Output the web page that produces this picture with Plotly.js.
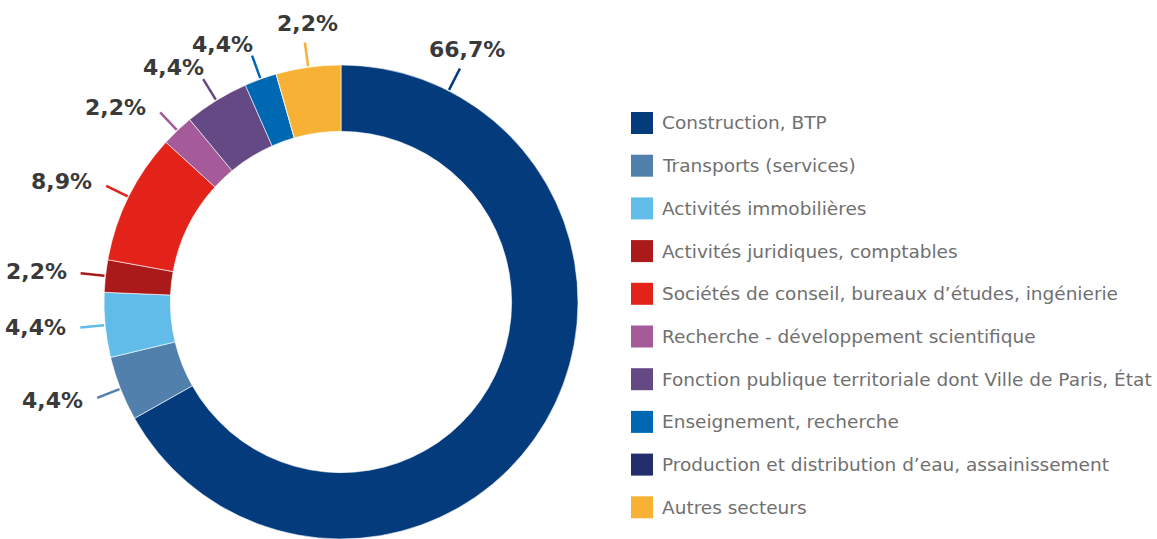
<!DOCTYPE html>
<html><head><meta charset="utf-8">
<script src="https://cdn.plot.ly/plotly-3.0.1.min.js"></script>
<style>html,body{margin:0;padding:0;background:#fff}#chart{width:1157px;height:539px}</style>
</head><body><div id="chart"></div>
<script>
// ---- data ----
const categories = [
  "Construction, BTP",
  "Transports (services)",
  "Activités immobilières",
  "Activités juridiques, comptables",
  "Sociétés de conseil, bureaux d’études, ingénierie",
  "Recherche - développement scientifique",
  "Fonction publique territoriale dont Ville de Paris, État",
  "Enseignement, recherche",
  "Production et distribution d’eau, assainissement",
  "Autres secteurs"
];
const values = [66.7, 4.4, 4.4, 2.2, 8.9, 2.2, 4.4, 2.2, 0, 4.4];
const printedLabels = ["66,7%", "4,4%", "4,4%", "2,2%", "8,9%", "2,2%", "4,4%", "4,4%", "", "2,2%"];
const colors = ["#033b7d", "#5280ad", "#62bce9", "#ab1a1a", "#e32219", "#a55a9a", "#654984", "#0068b3", "#232e6d", "#f7b134"];

// ---- layout geometry ----
const W = 1157, H = 539;
const CX = 341, CY = 302, R = 237;
const FIRST_LABEL_OFFSET = 27; // degrees into first slice where its label sits
const domainX = [(CX - R) / W, (CX + R) / W];
const domainY = [(H - (CY + R)) / H, (H - (CY - R)) / H];

const px2x = p => p / W;
const py2y = p => 1 - p / H;

const total = values.reduce((a, b) => a + b, 0);
const shapes = [];
const annotations = [];
let cum = 0;
values.forEach((v, i) => {
  const start = cum / total * 360;
  const end = (cum + v) / total * 360;
  cum += v;
  if (v <= 0 || !printedLabels[i]) return;
  const ang = i === 0 ? start + FIRST_LABEL_OFFSET : (start + end) / 2;
  const t = ang * Math.PI / 180;
  const sx = Math.sin(t), sy = -Math.cos(t);
  const r0 = R + 1, r1 = R + 25;
  const x0 = CX + r0 * sx, y0 = CY + r0 * sy;
  const x1 = CX + r1 * sx, y1 = CY + r1 * sy;
  shapes.push({type: "line", xref: "paper", yref: "paper",
    x0: px2x(x0), y0: py2y(y0), x1: px2x(x1), y1: py2y(y1),
    line: {color: colors[i], width: 2.5}});
  const xanchor = sx < -0.3 ? "right" : (sx > 0.5 ? "left" : "center");
  const yanchor = sy < -0.8 ? "bottom" : (sy > 0.8 ? "top" : "middle");
  let xs, ys;
  if (yanchor === "middle") { xs = 12 * Math.sign(sx); ys = Math.max(-5, Math.min(4, -sy * 9)) + 0.5; }
  else if (xanchor === "center") { xs = 6 * sx + 4; ys = -6 * sy - 1; }
  else { xs = 3; ys = -3; }
  annotations.push({xref: "paper", yref: "paper", x: px2x(x1), y: py2y(y1),
    text: printedLabels[i], showarrow: false, xanchor: xanchor, yanchor: yanchor,
    xshift: xs, yshift: ys,
    font: {family: "DejaVu Sans", size: 22, color: "#3a3a3a", weight: 700}});
});

// custom legend
const LEG_X = 631, LEG_SQ = 22, LEG_Y0 = 123, LEG_STEP = 42.7;
categories.forEach((c, i) => {
  const yc = LEG_Y0 + i * LEG_STEP;
  shapes.push({type: "rect", xref: "paper", yref: "paper",
    x0: px2x(LEG_X), x1: px2x(LEG_X + LEG_SQ),
    y0: py2y(yc + LEG_SQ / 2), y1: py2y(yc - LEG_SQ / 2),
    fillcolor: colors[i], line: {width: 0}});
  annotations.push({xref: "paper", yref: "paper", x: px2x(LEG_X + LEG_SQ + 7), y: py2y(yc),
    text: c, showarrow: false, xanchor: "left", yanchor: "middle",
    font: {family: "DejaVu Sans", size: 18.5, color: "#707070"}});
});

const trace = {
  type: "pie",
  labels: categories,
  values: values,
  marker: {colors: colors, line: {color: "#ffffff", width: 0.6}},
  hole: 0.72,
  sort: false,
  direction: "clockwise",
  rotation: 0,
  textinfo: "none",
  hoverinfo: "label+percent",
  showlegend: false,
  domain: {x: domainX, y: domainY}
};

const layout = {
  width: W, height: H,
  margin: {l: 0, r: 0, t: 0, b: 0},
  paper_bgcolor: "#ffffff",
  plot_bgcolor: "#ffffff",
  showlegend: false,
  shapes: shapes,
  annotations: annotations
};

Plotly.newPlot("chart", [trace], layout, {displayModeBar: false, staticPlot: true});
</script>
</body></html>
